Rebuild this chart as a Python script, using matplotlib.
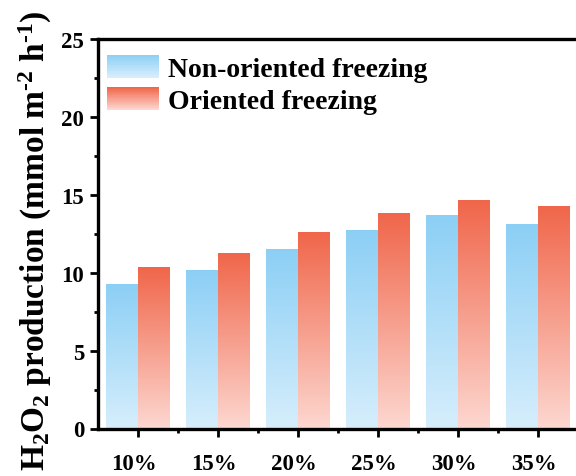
import numpy as np
import matplotlib
matplotlib.use("Agg")
import matplotlib.pyplot as plt
from matplotlib.colors import LinearSegmentedColormap
from matplotlib.legend_handler import HandlerBase
from matplotlib.patches import Rectangle, Patch
from matplotlib.transforms import ScaledTranslation

categories = ["10%", "15%", "20%", "25%", "30%", "35%"]
non_oriented = [9.23, 10.13, 11.43, 12.67, 13.65, 13.06]
oriented = [10.30, 11.20, 12.52, 13.76, 14.57, 14.21]
series_labels = ["Non-oriented freezing", "Oriented freezing"]

# (bottom colour, top colour)
blue_grad = ("#d6eefc", "#8ccff5")
red_grad = ("#fdd7d0", "#f0664a")

plt.rcParams["font.family"] = ["Liberation Serif", "DejaVu Serif"]
plt.rcParams["font.weight"] = "bold"
plt.rcParams["mathtext.fontset"] = "custom"
plt.rcParams["mathtext.rm"] = "Liberation Serif:bold"
plt.rcParams["mathtext.bf"] = "Liberation Serif:bold"
plt.rcParams["mathtext.it"] = "Liberation Serif:italic:bold"


class GradientHandler(HandlerBase):
    def __init__(self, colors, steps=30):
        super().__init__()
        self.cmap = LinearSegmentedColormap.from_list("g", list(colors))
        self.steps = steps

    def create_artists(self, legend, orig_handle, xdescent, ydescent,
                       width, height, fontsize, trans):
        arts = []
        h = height / self.steps
        for i in range(self.steps):
            r = Rectangle((-xdescent, -ydescent + i * h), width, h * 1.05,
                          facecolor=self.cmap(i / (self.steps - 1)),
                          edgecolor="none", transform=trans)
            arts.append(r)
        return arts


def gradient_bars(ax, xs, heights, width, colors):
    cmap = LinearSegmentedColormap.from_list("g", list(colors))
    grad = np.linspace(0, 1, 256).reshape(-1, 1)
    bars = ax.bar(xs, heights, width, color="none", edgecolor="none")
    for b in bars:
        x0 = b.get_x()
        ax.imshow(grad, extent=[x0, x0 + b.get_width(), 0, b.get_height()],
                  origin="lower", aspect="auto", cmap=cmap, zorder=2)
    return bars


fig = plt.figure(figsize=(5.76, 4.77), dpi=100)
W, H = 576, 477
left_px, right_px, top_px, bot_px = 97.5, 582, 40, 429.5
ax = fig.add_axes([left_px / W, 1 - bot_px / H,
                   (right_px - left_px) / W, (bot_px - top_px) / H])

x = np.arange(len(categories))
w = 0.4
gradient_bars(ax, x - w / 2, non_oriented, w, blue_grad)
gradient_bars(ax, x + w / 2, oriented, w, red_grad)

ax.set_xlim(-0.5, -0.5 + (right_px - left_px) / 80)
ax.set_ylim(0, 25)
ax.set_xticks(x)
ax.set_xticklabels(categories)
ax.set_xticks(x[:-1] + 0.5, minor=True)
ax.set_yticks(np.arange(0, 26, 5))
ax.set_yticks(np.arange(2.5, 25, 5), minor=True)

for s in ax.spines.values():
    s.set_linewidth(2.4)
ax.spines["right"].set_visible(False)

ax.tick_params(which="major", direction="out", length=5.5, width=2,
               labelsize=16.5)
ax.tick_params(which="minor", direction="out", length=3, width=2)
ax.tick_params(axis="x", pad=12)
ax.tick_params(axis="y", pad=4)

# labels sit a little left of their ticks in the original
shift = ScaledTranslation(-4 / 100, 0, fig.dpi_scale_trans)
for lab in ax.get_xticklabels():
    lab.set_transform(lab.get_transform() + shift)

ax.set_ylabel("H$_2$O$_2$ production (mmol m$^{\u20102}$ h$^{\u20101}$)",
              fontsize=24, fontweight="bold")
ax.yaxis.set_label_coords(-0.09, 0.484)

handles = [Patch(), Patch()]
ax.legend(handles, series_labels,
          handler_map={handles[0]: GradientHandler(blue_grad),
                       handles[1]: GradientHandler(red_grad)},
          loc="upper left", bbox_to_anchor=(0.0196, 0.96), frameon=False,
          fontsize=20, handlelength=1.87, handleheight=0.9,
          handletextpad=0.32, labelspacing=0.19, borderaxespad=0,
          borderpad=0)

fig.savefig("out.png", dpi=100)
